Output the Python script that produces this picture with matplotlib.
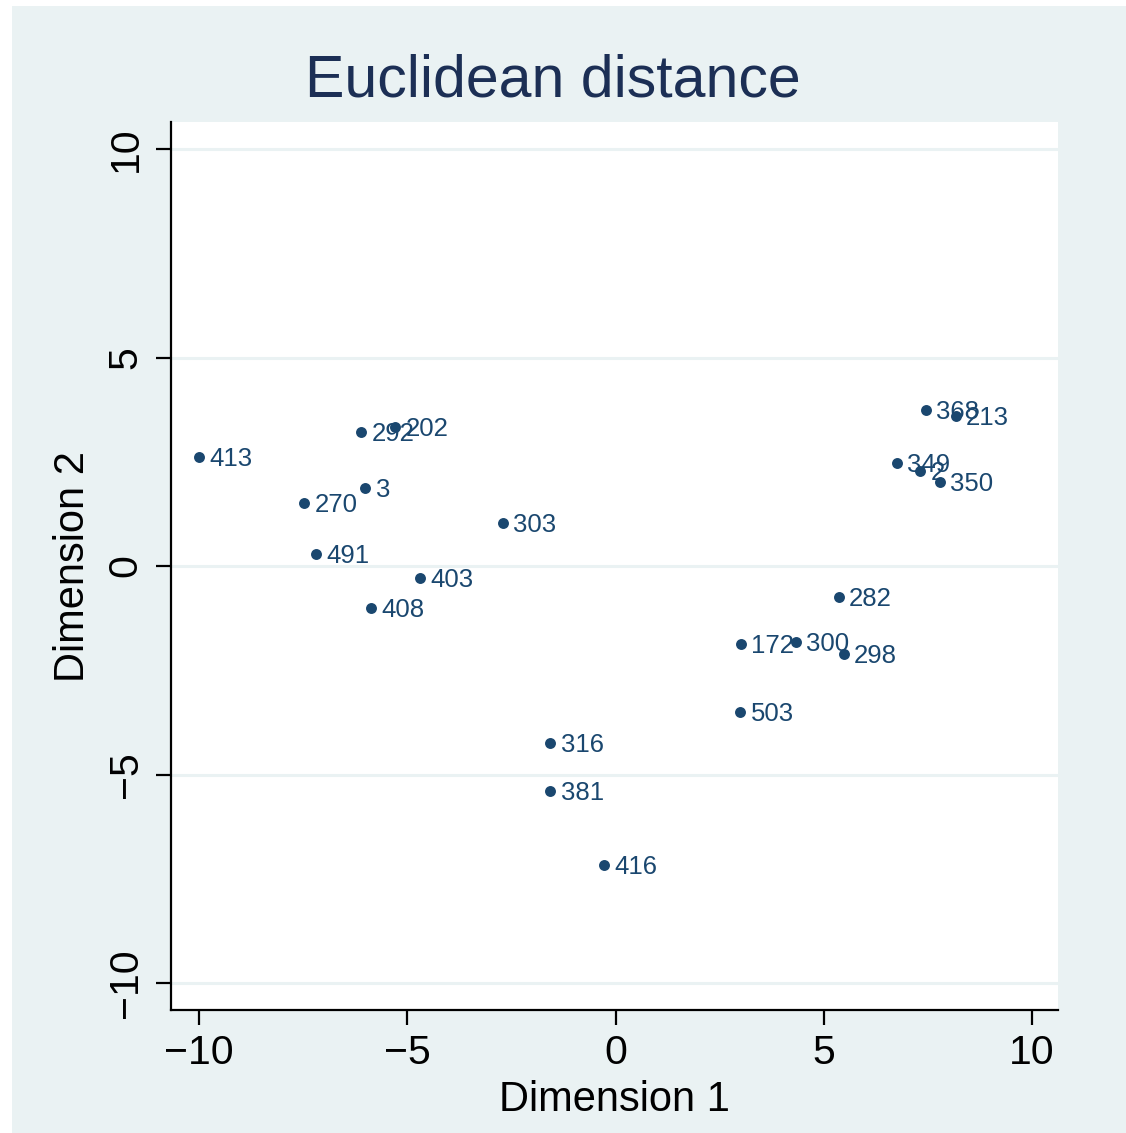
import matplotlib
matplotlib.use("Agg")
import matplotlib.pyplot as plt
from matplotlib.patches import Rectangle

ids = ["413", "292", "202", "3", "270", "491", "403", "408", "303", "316", "381",
       "416", "503", "172", "300", "298", "282", "368", "213", "349", "2", "350"]
dim1 = [-10.00, -6.11, -5.29, -6.01, -7.48, -7.19, -4.69, -5.87, -2.70, -1.57, -1.57,
        -0.28, 2.99, 3.01, 4.33, 5.48, 5.36, 7.45, 8.17, 6.76, 7.31, 7.79]
dim2 = [2.61, 3.21, 3.33, 1.87, 1.51, 0.29, -0.29, -1.01, 1.03, -4.24, -5.40,
        -7.17, -3.50, -1.87, -1.82, -2.11, -0.74, 3.74, 3.60, 2.47, 2.28, 2.01]
ticks = [-10, -5, 0, 5, 10]

plt.rcParams['font.family'] = ['Liberation Sans', 'DejaVu Sans']

W, H = 1126, 1133
fig = plt.figure(figsize=(W / 100, H / 100), dpi=100)
fig.patch.set_facecolor('white')
bg = Rectangle((12 / W, 0), 1 - 12 / W, 1 - 6 / H, transform=fig.transFigure,
               facecolor='#EAF2F3', edgecolor='none', zorder=-10)
fig.patches.append(bg)

ax = fig.add_axes([171 / W, (H - 1010) / H, (1058 - 171) / W, (1010 - 122) / H])
ax.set_facecolor('white')
ax.set_xlim(-10 - 28 / 41.65, 10 + 26 / 41.65)
ax.set_ylim(-10 - 27 / 41.7, 10 + 27 / 41.7)

navy = '#1a476f'
for t in ticks:
    ax.axhline(t, color='#EAF2F3', lw=2.2, zorder=0)

ax.scatter(dim1, dim2, s=62, color=navy, zorder=3, linewidths=0)
for x, y, lab in zip(dim1, dim2, ids):
    ax.annotate(lab, (x, y), xytext=(7.5, -1.5), textcoords='offset points',
                va='center', ha='left', fontsize=18.5, color=navy, zorder=4)

for s in ['top', 'right']:
    ax.spines[s].set_visible(False)
for s in ['left', 'bottom']:
    ax.spines[s].set_linewidth(1.6)
    ax.spines[s].set_color('black')

ax.set_xticks(ticks)
ax.set_yticks(ticks)
ax.set_xticklabels([f"\u2212{abs(t)}" if t < 0 else str(t) for t in ticks])
ax.set_yticklabels([f"\u2212{abs(t)}" if t < 0 else str(t) for t in ticks],
                   rotation=90, va='center')
ax.tick_params(axis='both', length=11, width=1.6, labelsize=29.5)
ax.tick_params(axis='x', pad=6)
ax.tick_params(axis='y', pad=8)

ax.set_xlabel("Dimension 1", fontsize=30, labelpad=6)
ax.set_ylabel("Dimension 2", fontsize=30, labelpad=10)

fig.text(553 / W, 1 - 81 / H, "Euclidean distance", fontsize=42.5, color='#1c2f55',
         ha='center', va='center')

fig.savefig("out.png", dpi=100, facecolor=fig.get_facecolor())
